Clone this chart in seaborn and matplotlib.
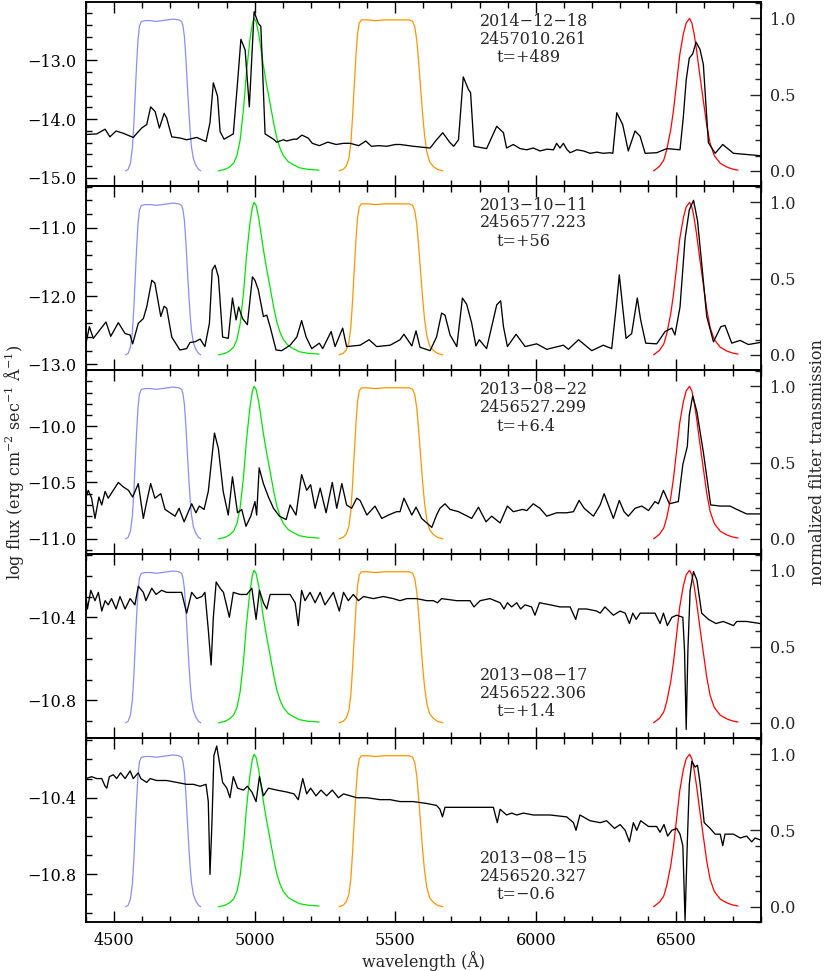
import matplotlib
matplotlib.use("Agg")
import matplotlib.pyplot as plt
import seaborn as sns
from matplotlib.ticker import MultipleLocator, FuncFormatter

# ---------------- data ----------------
# filter transmission curves (wavelength in Angstrom, normalized transmission)
blue_wl = [4541, 4550, 4558, 4565, 4570, 4575, 4580, 4585, 4590, 4597, 4610, 4630, 4650, 4670, 4690,
           4710, 4730, 4740, 4745, 4750, 4755, 4760, 4765, 4770, 4775, 4782, 4790, 4800, 4808]
blue_tr = [0.00, 0.01, 0.05, 0.15, 0.30, 0.50, 0.70, 0.86, 0.95, 0.98, 0.985, 0.985, 0.98, 0.985, 0.99,
           0.995, 0.99, 0.98, 0.95, 0.88, 0.75, 0.58, 0.42, 0.27, 0.16, 0.08, 0.04, 0.01, 0.00]
green_wl = [4871, 4895, 4910, 4925, 4937, 4948, 4960, 4971, 4983, 4992, 4998, 5005, 5015, 5031, 5043,
            5055, 5067, 5078, 5090, 5102, 5120, 5138, 5160, 5190, 5229]
green_tr = [0.00, 0.01, 0.025, 0.05, 0.10, 0.20, 0.40, 0.65, 0.86, 0.97, 1.00, 0.98, 0.89, 0.69, 0.56,
            0.44, 0.32, 0.22, 0.15, 0.10, 0.06, 0.04, 0.02, 0.01, 0.005]
orange_wl = [5300, 5315, 5325, 5335, 5342, 5348, 5354, 5360, 5366, 5372, 5380, 5400, 5430, 5460, 5490,
             5520, 5550, 5562, 5570, 5577, 5583, 5590, 5597, 5604, 5612, 5622, 5635, 5650, 5669]
orange_tr = [0.00, 0.01, 0.03, 0.08, 0.18, 0.35, 0.55, 0.75, 0.90, 0.97, 0.99, 0.99, 0.985, 0.99, 0.99,
             0.99, 0.99, 0.98, 0.94, 0.85, 0.72, 0.55, 0.38, 0.24, 0.13, 0.06, 0.03, 0.01, 0.00]
red_wl = [6419, 6440, 6455, 6466, 6480, 6490, 6501, 6512, 6525, 6535, 6547, 6555, 6563, 6572, 6584,
          6596, 6608, 6620, 6635, 6656, 6680, 6700, 6719]
red_tr = [0.00, 0.03, 0.07, 0.14, 0.27, 0.40, 0.58, 0.76, 0.90, 0.97, 1.00, 0.97, 0.90, 0.79, 0.62,
          0.46, 0.30, 0.18, 0.10, 0.05, 0.025, 0.012, 0.005]

# spectra: log flux per epoch
wl_1 = [4400, 4438, 4468, 4485, 4507, 4533, 4568, 4598, 4616, 4630, 4646, 4661, 4678, 4687, 4705, 4735,
        4758, 4794, 4827, 4841, 4853, 4868, 4877, 4891, 4924, 4939, 4951, 4966, 4981, 4998, 5013, 5022,
        5037, 5067, 5078, 5102, 5114, 5138, 5150, 5168, 5190, 5205, 5230, 5260, 5290, 5316, 5340, 5370,
        5395, 5415, 5440, 5470, 5500, 5517,
        5564, 5624, 5647, 5669, 5695, 5708, 5725, 5742, 5760, 5768, 5780, 5825, 5861, 5885,
        5896, 5920, 5944, 5968, 5991, 6015, 6039, 6063, 6074, 6086, 6098, 6110, 6122, 6146, 6170, 6193,
        6217, 6240, 6264, 6274,
        6288, 6309, 6329, 6353, 6371, 6389, 6430, 6466, 6513, 6525, 6535, 6546, 6558, 6570, 6584, 6596,
        6614, 6638, 6665, 6703, 6750, 6798]
flux_1 = [-14.26, -14.25, -14.17, -14.30, -14.20, -14.24, -14.31, -14.15, -14.09, -13.79, -13.87, -14.15,
          -13.90, -13.98, -14.30, -14.32, -14.35, -14.31, -14.38, -14.06, -13.38, -13.61, -14.21, -14.34,
          -14.25, -13.38, -12.64, -12.82, -13.79, -12.17, -12.37, -12.42,
          -14.25, -14.34, -14.39, -14.35, -14.37, -14.34, -14.34, -14.27, -14.32, -14.41, -14.45, -14.39,
          -14.43, -14.41, -14.41, -14.45, -14.37, -14.46, -14.45, -14.46, -14.43, -14.43,
          -14.46, -14.49, -14.35, -14.23, -14.40, -14.46, -14.35, -13.28, -13.49, -13.55, -14.46, -14.50,
          -14.12, -14.23,
          -14.49, -14.43, -14.50, -14.52, -14.49, -14.54, -14.51, -14.52, -14.41, -14.49, -14.41, -14.51,
          -14.57, -14.52, -14.54, -14.58, -14.56, -14.58, -14.57, -14.58,
          -13.89, -14.09, -14.54, -14.20, -14.29, -14.58, -14.57, -14.50, -14.52, -13.95, -13.33, -12.96,
          -12.89, -12.69, -12.81, -13.07, -14.40, -14.58, -14.43, -14.58, -14.60, -14.62]

wl_2 = [4400, 4412, 4426, 4471, 4488, 4515, 4539, 4557, 4566, 4586, 4604, 4616, 4634, 4645, 4666, 4678,
        4687, 4705, 4734, 4758, 4770, 4788, 4806, 4823, 4839, 4849, 4859, 4871, 4886, 4906, 4921, 4934,
        4943, 4957, 4974, 4992, 5001, 5013, 5031, 5043, 5055, 5076, 5096, 5126, 5150, 5167, 5183, 5203,
        5230, 5242, 5272, 5286, 5313, 5327, 5375, 5407, 5434, 5482, 5517, 5531, 5559, 5574, 5588, 5624,
        5647, 5665, 5677, 5695, 5719, 5739, 5754, 5772, 5787, 5799, 5825, 5861, 5875, 5885, 5899, 5930,
        5962, 6003, 6039, 6098, 6116, 6152, 6199, 6240, 6270, 6286, 6297, 6309, 6321, 6341, 6361, 6373,
        6391, 6430, 6460, 6484, 6495, 6513, 6531, 6546, 6561, 6575, 6590, 6608, 6632, 6658, 6673, 6697,
        6727, 6756, 6798]
flux_2 = [-12.69, -12.45, -12.62, -12.38, -12.59, -12.39, -12.55, -12.57, -12.70, -12.40, -12.33, -12.16,
          -11.77, -11.81, -12.30, -12.15, -12.18, -12.60, -12.79, -12.77, -12.68, -12.67, -12.63, -12.74,
          -12.40, -11.62, -11.55, -11.72, -12.60, -12.62, -12.03, -12.35, -12.16, -12.33, -12.42, -11.72,
          -11.77, -11.91, -12.30, -12.28, -12.45, -12.79, -12.80, -12.72, -12.60, -12.36, -12.60, -12.77,
          -12.69, -12.77, -12.52, -12.74, -12.47, -12.74, -12.72, -12.64, -12.74, -12.72, -12.64, -12.56,
          -12.73, -12.51, -12.75, -12.80, -12.60, -12.25, -12.28, -12.57, -12.74, -12.03, -12.12, -12.40,
          -12.73, -12.64, -12.77, -12.13, -12.07, -12.45, -12.74, -12.56, -12.74, -12.70, -12.78, -12.72,
          -12.78, -12.64, -12.80, -12.72, -12.77, -12.16, -11.69, -12.16, -12.62, -12.55, -12.03, -12.35,
          -12.69, -12.70, -12.52, -12.47, -12.57, -12.16, -11.16, -10.74, -10.60, -10.89, -11.52, -12.30,
          -12.67, -12.45, -12.43, -12.69, -12.65, -12.71, -12.68]

wl_3 = [4400, 4408, 4420, 4432, 4446, 4456, 4468, 4479, 4497, 4515, 4533, 4551, 4566, 4586, 4604, 4616,
        4630, 4645, 4666, 4681, 4717, 4731, 4749, 4776, 4791, 4803, 4820, 4835, 4857, 4871, 4888, 4906,
        4921, 4939, 4954, 4969, 4986, 5001, 5007, 5016, 5031, 5049, 5067, 5088, 5112, 5126, 5147, 5167,
        5185, 5199, 5215, 5233, 5254, 5276, 5292, 5310, 5327, 5345, 5363, 5375, 5399, 5428, 5452, 5476,
        5505, 5517, 5531, 5559, 5574, 5594, 5630, 5647, 5659, 5677, 5695, 5725, 5772, 5796, 5823, 5843,
        5873, 5899, 5920, 5953, 5968, 5991, 6015, 6039, 6074, 6110, 6134, 6154, 6172, 6205, 6229, 6243,
        6258, 6276, 6297, 6314, 6329, 6353, 6377, 6401, 6424, 6436, 6454, 6475, 6507, 6523, 6539, 6546,
        6558, 6573, 6596, 6622, 6656, 6691, 6715, 6750, 6798]
flux_3 = [-10.63, -10.57, -10.64, -10.82, -10.63, -10.70, -10.58, -10.64, -10.57, -10.50, -10.54, -10.57,
          -10.63, -10.51, -10.82, -10.67, -10.51, -10.64, -10.60, -10.74, -10.80, -10.73, -10.85, -10.69,
          -10.77, -10.71, -10.74, -10.58, -10.06, -10.20, -10.58, -10.79, -10.45, -10.77, -10.74, -10.89,
          -10.80, -10.67, -10.79, -10.37, -10.51, -10.63, -10.73, -10.80, -10.83, -10.70, -10.79, -10.43,
          -10.57, -10.52, -10.73, -10.55, -10.77, -10.50, -10.73, -10.51, -10.70, -10.73, -10.64, -10.66,
          -10.79, -10.71, -10.82, -10.79, -10.76, -10.76, -10.64, -10.79, -10.72, -10.82, -10.90, -10.79,
          -10.73, -10.69, -10.74, -10.76, -10.82, -10.72, -10.85, -10.80, -10.86, -10.71, -10.76, -10.74,
          -10.75, -10.69, -10.73, -10.80, -10.77, -10.77, -10.76, -10.66, -10.73, -10.80, -10.70, -10.60,
          -10.70, -10.82, -10.66, -10.76, -10.80, -10.73, -10.71, -10.75, -10.67, -10.69, -10.57, -10.69,
          -10.67, -10.34, -10.18, -9.90, -9.73, -9.87, -10.23, -10.70, -10.71, -10.71, -10.74, -10.78, -10.78]

wl_4 = [4400, 4405, 4417, 4432, 4444, 4456, 4468, 4479, 4491, 4507, 4521, 4539, 4557, 4574, 4586, 4604,
        4613, 4634, 4649, 4669, 4687, 4711, 4729, 4740, 4758, 4776, 4794, 4812, 4823, 4835, 4845, 4853,
        4863, 4877, 4889, 4910, 4924, 4948, 4972, 4990, 5005, 5017, 5031, 5043, 5055, 5090, 5126, 5144,
        5155, 5167, 5179, 5197, 5215, 5233, 5250, 5280, 5301, 5316, 5333, 5351, 5369, 5387, 5422, 5458,
        5493, 5517, 5541, 5576, 5612, 5636, 5650, 5665, 5719, 5766, 5780, 5802, 5837, 5873, 5887, 5899,
        5914, 5932, 5946, 5962, 5985, 5997, 6013, 6051, 6086, 6122, 6142, 6152, 6181, 6217, 6229, 6246,
        6276, 6300, 6318, 6333, 6345, 6357, 6371, 6395, 6424, 6442, 6454, 6468, 6484, 6501, 6523, 6529,
        6535, 6541, 6549, 6561, 6573, 6590, 6614, 6641, 6667, 6703, 6715, 6750, 6798]
flux_4 = [-10.30, -10.36, -10.27, -10.32, -10.28, -10.37, -10.32, -10.34, -10.31, -10.36, -10.30, -10.36,
          -10.31, -10.34, -10.25, -10.28, -10.32, -10.26, -10.29, -10.27, -10.28, -10.28, -10.28, -10.28,
          -10.38, -10.28, -10.31, -10.30, -10.28, -10.46, -10.63, -10.40, -10.23, -10.26, -10.28, -10.40,
          -10.28, -10.29, -10.29, -10.26, -10.41, -10.27, -10.33, -10.36, -10.29, -10.29, -10.29, -10.33,
          -10.44, -10.27, -10.32, -10.28, -10.33, -10.28, -10.34, -10.28, -10.37, -10.28, -10.32, -10.29,
          -10.32, -10.30, -10.31, -10.30, -10.31, -10.32, -10.31, -10.31, -10.32, -10.32, -10.33, -10.31,
          -10.32, -10.32, -10.35, -10.32, -10.31, -10.33, -10.36, -10.33, -10.35, -10.33, -10.36, -10.34,
          -10.35, -10.39, -10.33, -10.34, -10.35, -10.35, -10.41, -10.36, -10.36, -10.37, -10.38, -10.35,
          -10.39, -10.37, -10.38, -10.43, -10.38, -10.41, -10.38, -10.38, -10.38, -10.43, -10.38, -10.44,
          -10.40, -10.39, -10.40, -10.56, -10.94, -10.56, -10.27, -10.18, -10.22, -10.38, -10.41, -10.43,
          -10.42, -10.44, -10.42, -10.42, -10.43]

wl_5 = [4400, 4420, 4438, 4456, 4468, 4474, 4483, 4497, 4509, 4523, 4539, 4557, 4568, 4586, 4595, 4616,
        4628, 4651, 4687, 4723, 4758, 4782, 4806, 4827, 4835, 4841, 4848, 4855, 4865, 4874, 4886, 4901,
        4912, 4924, 4939, 4960, 4974, 4990, 5005, 5017, 5031, 5049, 5078, 5114, 5140, 5155, 5171, 5185,
        5199, 5218, 5236, 5256, 5276, 5298, 5316, 5340, 5363, 5399, 5446, 5482, 5517, 5564, 5612, 5647,
        5659, 5668, 5677, 5695, 5754, 5802, 5849, 5863, 5873, 5896, 5914, 5932, 5956, 5991, 6051, 6110,
        6134, 6143, 6157, 6193, 6229, 6252, 6280, 6300, 6318, 6333, 6347, 6359, 6373, 6401, 6430, 6442,
        6456, 6469, 6484, 6501, 6513, 6523, 6531, 6539, 6546, 6555, 6567, 6575, 6584, 6599, 6620, 6638,
        6656, 6665, 6673, 6703, 6727, 6750, 6768, 6780, 6798]
flux_5 = [-10.30, -10.29, -10.30, -10.30, -10.34, -10.35, -10.29, -10.28, -10.30, -10.27, -10.30, -10.26,
          -10.30, -10.27, -10.30, -10.32, -10.30, -10.31, -10.31, -10.32, -10.33, -10.33, -10.34, -10.33,
          -10.42, -10.80, -10.53, -10.18, -10.13, -10.21, -10.32, -10.35, -10.40, -10.29, -10.35, -10.36,
          -10.34, -10.37, -10.42, -10.29, -10.39, -10.35, -10.36, -10.37, -10.38, -10.41, -10.30, -10.38,
          -10.35, -10.39, -10.36, -10.39, -10.36, -10.40, -10.38, -10.39, -10.40, -10.40, -10.41, -10.41,
          -10.42, -10.42, -10.43, -10.44, -10.46, -10.50, -10.45, -10.45, -10.45, -10.45, -10.45, -10.53,
          -10.46, -10.49, -10.48, -10.49, -10.48, -10.49, -10.49, -10.50, -10.53, -10.57, -10.49, -10.52,
          -10.53, -10.52, -10.56, -10.54, -10.57, -10.63, -10.53, -10.57, -10.52, -10.55, -10.55, -10.58,
          -10.54, -10.60, -10.57, -10.56, -10.59, -10.65, -11.04, -10.63, -10.33, -10.21, -10.24, -10.23,
          -10.32, -10.53, -10.56, -10.59, -10.59, -10.65, -10.59, -10.59, -10.61, -10.60, -10.63, -10.61,
          -10.62]

dates = ["2014\u221212\u221218", "2013\u221210\u221211", "2013\u221208\u221222", "2013\u221208\u221217", "2013\u221208\u221215"]
jds = ["2457010.261", "2456577.223", "2456527.299", "2456522.306", "2456520.327"]
phases = ["t=+489", "t=+56", "t=+6.4", "t=+1.4", "t=\u22120.6"]

# ---------------- style ----------------
sns.set_style("ticks")
plt.rcParams["font.family"] = ["DejaVu Serif"]
plt.rcParams["mathtext.fontset"] = "dejavuserif"
plt.rcParams["font.size"] = 11.5
plt.rcParams["axes.linewidth"] = 1.1
plt.rcParams["axes.edgecolor"] = "black"

W, H = 828, 971
fig = plt.figure(figsize=(W / 100, H / 100), dpi=100)

spectra = [(wl_1, flux_1), (wl_2, flux_2), (wl_3, flux_3), (wl_4, flux_4), (wl_5, flux_5)]
ylims = [(-15.144, -12.014), (-13.089, -10.397), (-11.140, -9.503), (-10.983, -10.097), (-11.050, -10.090)]
majors = [1.0, 1.0, 0.5, 0.4, 0.4]
minors = [0.2, 0.2, 0.1, 0.1, 0.1]
text_y = [(21, 39, 57), (205, 222.7, 241), (389.3, 407.3, 426.7), (675, 693.3, 711.7), (858.3, 876.7, 894.3)]

filters = [(blue_wl, blue_tr, "#8c8cff"), (green_wl, green_tr, "#00e600"),
           (orange_wl, orange_tr, "#ff9500"), (red_wl, red_tr, "#ff0000")]

fmt = FuncFormatter(lambda v, p: f"{v:.1f}".replace("-", "\u2212"))
fmtx = FuncFormatter(lambda v, p: f"{v:.0f}")

left_px, right_px = 86, 760.7
top_px, bot_px = 2.5, 922.3
ph = (bot_px - top_px) / 5

for i in range(5):
    y0 = top_px + i * ph
    ax = fig.add_axes([left_px / W, 1 - (y0 + ph) / H, (right_px - left_px) / W, ph / H])
    ax2 = ax.twinx()
    for fw, ft, col in filters:
        sns.lineplot(x=fw, y=ft, ax=ax2, color=col, linewidth=0.9, sort=False, estimator=None)
    wl, fl = spectra[i]
    sns.lineplot(x=wl, y=fl, ax=ax, color="black", linewidth=0.95, sort=False, estimator=None)
    ax.set_zorder(ax2.get_zorder() + 1)
    ax.patch.set_visible(False)

    ax.set_xlim(4400, 6800)
    ax.set_ylim(*ylims[i])
    ax2.set_ylim(-0.102, 1.104)
    ax.xaxis.set_major_locator(MultipleLocator(500))
    ax.xaxis.set_minor_locator(MultipleLocator(100))
    ax.yaxis.set_major_locator(MultipleLocator(majors[i]))
    ax.yaxis.set_minor_locator(MultipleLocator(minors[i]))
    ax.yaxis.set_major_formatter(fmt)
    ax.xaxis.set_major_formatter(fmtx)
    ax2.yaxis.set_major_locator(MultipleLocator(0.5))
    ax2.yaxis.set_minor_locator(MultipleLocator(0.1))
    ax2.yaxis.set_major_formatter(fmt)

    ax.tick_params(axis="both", which="both", direction="in", top=True, bottom=True,
                   left=True, right=False, labelbottom=(i == 4), pad=7, colors="black")
    ax.tick_params(which="major", length=7.7, width=1.0)
    ax.tick_params(which="minor", length=4.0, width=1.0)
    ax2.tick_params(axis="y", which="both", direction="in", right=True, left=False, pad=7)
    ax2.tick_params(which="major", length=7.7, width=1.0)
    ax2.tick_params(which="minor", length=4.0, width=1.0)
    for a in (ax, ax2):
        a.set_xlabel("")
        a.set_ylabel("")
        for s in a.spines.values():
            s.set_linewidth(1.1)
            s.set_color("black")

    ty = text_y[i]
    fig.text(480 / W, 1 - ty[0] / H, dates[i], ha="left", va="center", fontsize=11.5)
    fig.text(480 / W, 1 - ty[1] / H, jds[i], ha="left", va="center", fontsize=11.5)
    fig.text(496.7 / W, 1 - ty[2] / H, phases[i], ha="left", va="center", fontsize=11.5)

mid = 1 - (top_px + bot_px) / 2 / H
fig.text(14 / W, mid, r"log flux (erg cm$^{-2}$ sec$^{-1}$ $\mathrm{\AA}^{-1}$)",
         rotation=90, ha="center", va="center", fontsize=11.5)
fig.text(818 / W, mid, "normalized filter transmission", rotation=90, ha="center", va="center", fontsize=11.5)
fig.text((left_px + right_px) / 2 / W, 1 - 961 / H, "wavelength (\u00c5)", ha="center", va="center", fontsize=11.5)

fig.savefig("out.png", dpi=100)
